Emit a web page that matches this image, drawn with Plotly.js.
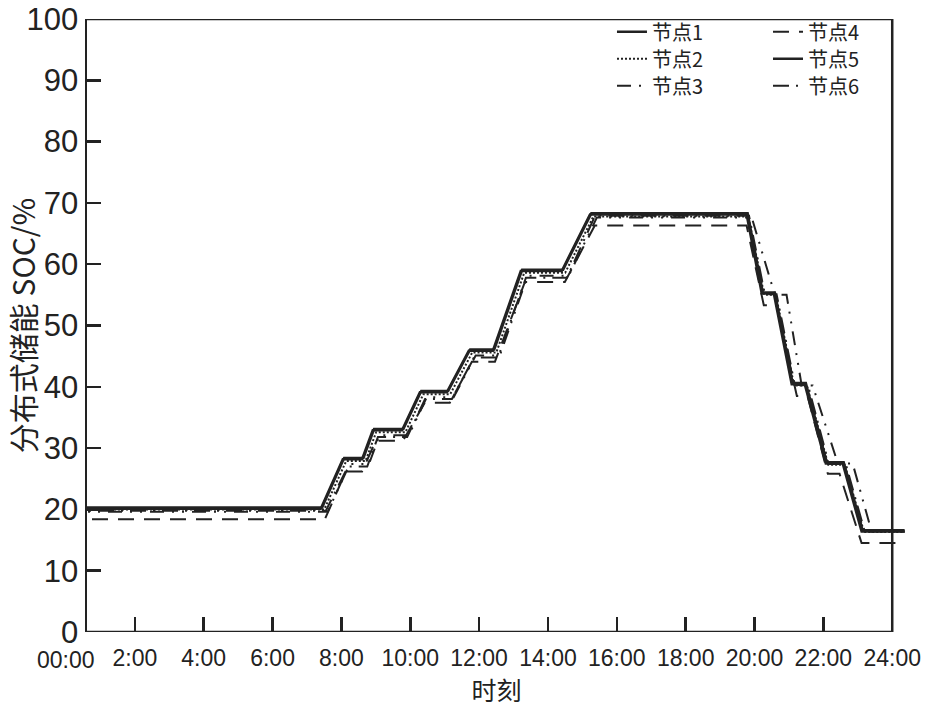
<!DOCTYPE html>
<html>
<head>
<meta charset="utf-8">
<script src="https://cdn.plot.ly/plotly-3.0.1.min.js"></script>
<style>
  html, body { margin: 0; padding: 0; background: #ffffff; }
  #chart { width: 931px; height: 711px; }
</style>
</head>
<body>
<div id="chart"></div>
<script>
// ---- data (hours, SOC %) ----
var seriesNames = ['节点1', '节点2', '节点3', '节点4', '节点5', '节点6'];

var t1 = [0, 7.40, 8.04, 8.60, 8.91, 9.76, 10.28, 11.06, 11.70, 12.40, 13.21, 14.40, 15.22, 19.77, 20.21, 20.56, 21.08, 21.46, 22.07, 22.56, 23.11, 24.36];
var v1 = [20.1, 20.1, 28.2, 28.2, 32.9, 32.9, 39.1, 39.1, 45.9, 45.9, 58.9, 58.9, 68.1, 68.1, 55.2, 55.2, 40.4, 40.4, 27.5, 27.5, 16.4, 16.4];

var t2 = [0, 7.50, 8.14, 8.70, 9.01, 9.86, 10.38, 11.16, 11.80, 12.50, 13.31, 14.50, 15.32, 19.82, 20.28, 20.62, 21.15, 21.52, 22.14, 22.62, 23.18, 24.36];
var v2 = [20.0, 20.0, 27.9, 27.9, 32.6, 32.6, 38.8, 38.8, 45.6, 45.6, 58.6, 58.6, 67.8, 67.8, 55.0, 55.0, 40.2, 40.2, 27.3, 27.3, 16.3, 16.3];

var t3 = [0, 7.60, 8.24, 8.80, 9.11, 9.96, 10.48, 11.26, 11.90, 12.60, 13.41, 14.60, 15.42, 19.92, 20.59, 20.93, 21.37, 21.69, 22.42, 22.85, 23.40, 24.36];
var v3 = [19.6, 19.6, 27.4, 27.4, 32.1, 32.1, 38.3, 38.3, 45.1, 45.1, 58.1, 58.1, 67.6, 67.6, 55.0, 55.0, 40.2, 40.2, 27.5, 27.5, 16.4, 16.4];

var t4 = [0, 7.52, 8.13, 8.60, 9.00, 9.79, 10.42, 11.15, 11.79, 12.46, 13.33, 14.49, 15.36, 19.77, 20.27, 20.64, 21.23, 21.54, 22.13, 22.47, 23.11, 24.13];
var v4 = [18.4, 18.4, 26.2, 26.2, 31.2, 31.2, 37.4, 37.4, 44.1, 44.1, 57.1, 57.1, 66.3, 66.3, 53.3, 53.3, 38.5, 38.5, 25.8, 25.8, 14.5, 14.5];

var t5 = [0, 7.44, 8.08, 8.64, 8.95, 9.80, 10.32, 11.10, 11.74, 12.44, 13.25, 14.44, 15.26, 19.80, 20.24, 20.59, 21.11, 21.49, 22.10, 22.59, 23.14, 24.36];
var v5 = [20.3, 20.3, 28.4, 28.4, 33.1, 33.1, 39.3, 39.3, 46.1, 46.1, 59.1, 59.1, 68.3, 68.3, 55.4, 55.4, 40.6, 40.6, 27.7, 27.7, 16.6, 16.6];

var t6 = [0, 7.55, 8.19, 8.75, 9.06, 9.91, 10.43, 11.21, 11.85, 12.55, 13.36, 14.55, 15.37, 19.84, 20.30, 20.64, 21.17, 21.55, 22.16, 22.65, 23.20, 24.36];
var v6 = [19.8, 19.8, 27.0, 27.0, 31.8, 31.8, 38.0, 38.0, 44.8, 44.8, 57.8, 57.8, 67.9, 67.9, 55.1, 55.1, 40.3, 40.3, 27.4, 27.4, 16.4, 16.4];

var xTickVals = [2, 4, 6, 8, 10, 12, 14, 16, 18, 20, 22, 24];
var xTickText = ['2:00', '4:00', '6:00', '8:00', '10:00', '12:00', '14:00', '16:00', '18:00', '20:00', '22:00', '24:00'];
var firstTickText = '00:00';
var yTickVals = [0, 10, 20, 30, 40, 50, 60, 70, 80, 90, 100];

// ---- styling ----
var ink = '#222222';
var latin = 'Liberation Sans, Arial, Noto Sans CJK SC, sans-serif';
var cjk = 'Noto Sans CJK SC, Liberation Sans, sans-serif';

function mk(name, x, y, dash, width, legendId) {
  return {
    type: 'scatter', mode: 'lines', name: name, x: x, y: y,
    line: { color: ink, width: width, dash: dash },
    legend: legendId
  };
}

var traces = [
  mk(seriesNames[0], t1, v1, 'solid', 2.5, 'legend'),
  mk(seriesNames[1], t2, v2, '2px,2px', 2, 'legend2'),
  mk(seriesNames[2], t3, v3, '14px,8px,2px,8px,2px,8px', 2, 'legend3'),
  mk(seriesNames[3], t4, v4, '16px,10px', 2, 'legend4'),
  mk(seriesNames[4], t5, v5, 'solid', 2.5, 'legend5'),
  mk(seriesNames[5], t6, v6, '16px,7px,2px,7px', 2, 'legend6')
];

var xMin = 0.61, xMax = 24.4;

function leg(x, y) {
  return {
    x: x, y: y, xanchor: 'left', yanchor: 'middle',
    bgcolor: 'rgba(0,0,0,0)', borderwidth: 0,
    font: { family: cjk, size: 20, color: ink }
  };
}
var col1 = 0.641, col2 = 0.8315;
var row1 = 0.979, row2 = 0.935, row3 = 0.891;

var layout = {
  width: 931, height: 711,
  margin: { l: 87, r: 25, t: 15, b: 79 },
  paper_bgcolor: '#ffffff', plot_bgcolor: '#ffffff',
  font: { family: latin, color: ink },
  xaxis: {
    range: [xMin, xMax],
    tickmode: 'array', tickvals: xTickVals, ticktext: xTickText,
    ticks: 'inside', ticklen: 15, tickwidth: 2.5, tickcolor: ink,
    showline: false, showgrid: false, zeroline: false,
    tickfont: { family: latin, size: 23, color: ink },
    ticklabelstandoff: 10,
    title: { text: '时刻', font: { family: cjk, size: 25, color: ink }, standoff: 12 }
  },
  yaxis: {
    range: [0, 100],
    tickmode: 'array', tickvals: yTickVals,
    ticks: 'inside', ticklen: 14, tickwidth: 2.5, tickcolor: ink,
    showline: true, linewidth: 2.5, linecolor: ink,
    showgrid: false, zeroline: false,
    tickfont: { family: latin, size: 31, color: ink },
    ticklabelstandoff: 0,
    ticklabeloverflow: 'allow',
    title: { text: '分布式储能 SOC/%', font: { family: cjk, size: 30, color: ink }, standoff: 4 }
  },
  showlegend: true,
  legend: leg(col1, row1),
  legend2: leg(col1, row2),
  legend3: leg(col1, row3),
  legend4: leg(col2, row1),
  legend5: leg(col2, row2),
  legend6: leg(col2, row3),
  shapes: [
    { type: 'line', xref: 'x', yref: 'y', x0: xMin, x1: 24, y0: 0, y1: 0, line: { color: ink, width: 2.5 } },
    { type: 'line', xref: 'x', yref: 'y', x0: xMin, x1: 24, y0: 100, y1: 100, line: { color: ink, width: 2.5 } },
    { type: 'line', xref: 'x', yref: 'y', x0: 24, x1: 24, y0: 0, y1: 100, line: { color: ink, width: 2.5 } }
  ],
  annotations: [
    { text: firstTickText, xref: 'paper', yref: 'paper', x: -0.0256, y: 0,
      xanchor: 'center', yanchor: 'top', yshift: -13, showarrow: false,
      font: { family: latin, size: 23, color: ink } }
  ]
};

Plotly.newPlot('chart', traces, layout, { staticPlot: true, displayModeBar: false });
</script>
</body>
</html>
